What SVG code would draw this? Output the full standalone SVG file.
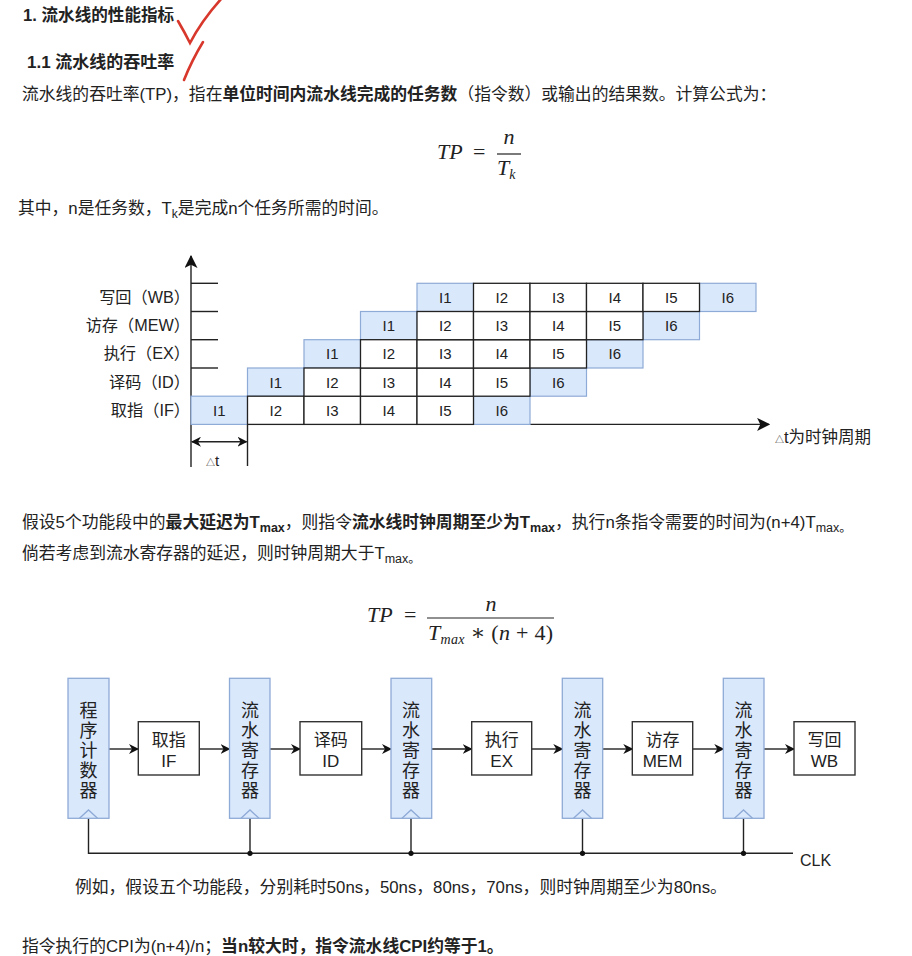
<svg xmlns="http://www.w3.org/2000/svg" width="912" height="956" viewBox="0 0 912 956">
<defs>
<style>
text{font-family:"Liberation Sans","Noto Sans CJK SC",sans-serif;fill:#222}
.p{font-size:16.8px}
.b{font-weight:bold}
.h{font-weight:bold}
.m{font-family:"Liberation Serif","DejaVu Serif",serif;font-style:italic;font-size:22px}
.mu{font-family:"Liberation Serif","DejaVu Serif",serif;font-style:normal;font-size:22px}
.lbl{font-size:16.2px;text-anchor:end}
.cell{font-size:15px;text-anchor:middle}
.blue{fill:#dae8fc;stroke:#8eaad6;stroke-width:1.2}
.white{fill:#fff;stroke:#222;stroke-width:1.3}
.ln{stroke:#222;stroke-width:1.4;fill:none}
.reg{fill:#dae8fc;stroke:#8eaad6;stroke-width:1.3}
.box{fill:#fff;stroke:#333;stroke-width:1.4}
.rt{font-size:18px;text-anchor:middle}
.bt{font-size:17px;text-anchor:middle}
.chk{stroke:#d8382c;stroke-width:2.6;fill:none;stroke-linecap:round}
</style>
<marker id="ah" viewBox="0 0 10 10" refX="9" refY="5" markerWidth="10" markerHeight="10" markerUnits="userSpaceOnUse" orient="auto-start-reverse">
<path d="M0,0 L10,5 L0,10 L3,5 Z" fill="#111"/>
</marker>
<marker id="ax" viewBox="0 0 12 12" refX="11" refY="6" markerWidth="13" markerHeight="13" markerUnits="userSpaceOnUse" orient="auto-start-reverse">
<path d="M0,0 L12,6 L0,12 L3,6 Z" fill="#111"/>
</marker>
</defs>
<rect width="912" height="956" fill="#fff"/>

<!-- headings -->
<text x="23" y="21" class="h" font-size="16.6">1. 流水线的性能指标</text>
<path class="chk" d="M178,21 Q185,33 190,43 Q202,20 222,-2"/>
<path class="chk" d="M203,42 Q192,60 184,80"/>
<text x="27" y="68" class="h" font-size="17">1.1 流水线的吞吐率</text>
<text x="22" y="100" class="p">流水线的吞吐率(TP)，指在<tspan class="b">单位时间内流水线完成的任务数</tspan>（指令数）或输出的结果数。计算公式为：</text>

<!-- formula 1 -->
<g id="formula1">
<text x="437" y="159" class="m" font-size="24">TP</text>
<text x="473" y="159" class="mu">=</text>
<line x1="497" y1="154" x2="521" y2="154" stroke="#222" stroke-width="1.2"/>
<text x="509" y="144" class="m" text-anchor="middle">n</text>
<text x="497" y="175" class="m">T<tspan font-size="14" dy="4">k</tspan></text>
</g>

<text x="18" y="214" class="p" font-size="17.2">其中，n是任务数，T<tspan font-size="12" dy="4">k</tspan><tspan dy="-4">是完成n个任务所需的时间。</tspan></text>

<!-- pipeline chart -->
<g id="chart-axes">
<line class="ln" x1="191" y1="467" x2="191" y2="256" marker-end="url(#ax)"/>
<line class="ln" x1="191" y1="424.4" x2="769" y2="424.4" marker-end="url(#ax)"/>
<line class="ln" x1="191" y1="283.3" x2="218" y2="283.3"/>
<line class="ln" x1="191" y1="311.5" x2="218" y2="311.5"/>
<line class="ln" x1="191" y1="339.7" x2="218" y2="339.7"/>
<line class="ln" x1="191" y1="368" x2="218" y2="368"/>
<line class="ln" x1="247.5" y1="424.4" x2="247.5" y2="466"/>
<line class="ln" x1="192" y1="441.7" x2="246.5" y2="441.7" marker-start="url(#ah)" marker-end="url(#ah)"/>
<text x="206" y="466"><tspan font-size="9">△</tspan><tspan font-size="15">t</tspan></text>
<text x="775" y="443"><tspan font-size="9">△</tspan><tspan font-size="16.5">t为时钟周期</tspan></text>
</g>
<g id="row-labels">
<text x="190" y="303" class="lbl">写回（WB）</text>
<text x="190" y="331" class="lbl">访存（MEW）</text>
<text x="190" y="359" class="lbl">执行（EX）</text>
<text x="190" y="388" class="lbl">译码（ID）</text>
<text x="190" y="416" class="lbl">取指（IF）</text>
</g>
<g id="blue-cells">
<rect class="blue" x="191" y="396.2" width="56.5" height="28.2"/>
<rect class="blue" x="473.5" y="396.2" width="56.5" height="28.2"/>
<rect class="blue" x="247.5" y="368" width="56.5" height="28.2"/>
<rect class="blue" x="530" y="368" width="56.5" height="28.2"/>
<rect class="blue" x="304" y="339.7" width="56.5" height="28.3"/>
<rect class="blue" x="586.5" y="339.7" width="56.5" height="28.3"/>
<rect class="blue" x="360.5" y="311.5" width="56.5" height="28.2"/>
<rect class="blue" x="643" y="311.5" width="56.5" height="28.2"/>
<rect class="blue" x="417" y="283.3" width="56.5" height="28.2"/>
<rect class="blue" x="699.5" y="283.3" width="56.5" height="28.2"/>
</g>
<g id="white-cells">
<rect class="white" x="247.5" y="396.2" width="56.5" height="28.2"/>
<rect class="white" x="304" y="396.2" width="56.5" height="28.2"/>
<rect class="white" x="360.5" y="396.2" width="56.5" height="28.2"/>
<rect class="white" x="417" y="396.2" width="56.5" height="28.2"/>
<rect class="white" x="304" y="368" width="56.5" height="28.2"/>
<rect class="white" x="360.5" y="368" width="56.5" height="28.2"/>
<rect class="white" x="417" y="368" width="56.5" height="28.2"/>
<rect class="white" x="473.5" y="368" width="56.5" height="28.2"/>
<rect class="white" x="360.5" y="339.7" width="56.5" height="28.3"/>
<rect class="white" x="417" y="339.7" width="56.5" height="28.3"/>
<rect class="white" x="473.5" y="339.7" width="56.5" height="28.3"/>
<rect class="white" x="530" y="339.7" width="56.5" height="28.3"/>
<rect class="white" x="417" y="311.5" width="56.5" height="28.2"/>
<rect class="white" x="473.5" y="311.5" width="56.5" height="28.2"/>
<rect class="white" x="530" y="311.5" width="56.5" height="28.2"/>
<rect class="white" x="586.5" y="311.5" width="56.5" height="28.2"/>
<rect class="white" x="473.5" y="283.3" width="56.5" height="28.2"/>
<rect class="white" x="530" y="283.3" width="56.5" height="28.2"/>
<rect class="white" x="586.5" y="283.3" width="56.5" height="28.2"/>
<rect class="white" x="643" y="283.3" width="56.5" height="28.2"/>
</g>
<g id="cell-text">
<text class="cell" x="219.3" y="416">I1</text><text class="cell" x="275.8" y="416">I2</text><text class="cell" x="332.3" y="416">I3</text><text class="cell" x="388.8" y="416">I4</text><text class="cell" x="445.3" y="416">I5</text><text class="cell" x="501.8" y="416">I6</text>
<text class="cell" x="275.8" y="388">I1</text><text class="cell" x="332.3" y="388">I2</text><text class="cell" x="388.8" y="388">I3</text><text class="cell" x="445.3" y="388">I4</text><text class="cell" x="501.8" y="388">I5</text><text class="cell" x="558.3" y="388">I6</text>
<text class="cell" x="332.3" y="359">I1</text><text class="cell" x="388.8" y="359">I2</text><text class="cell" x="445.3" y="359">I3</text><text class="cell" x="501.8" y="359">I4</text><text class="cell" x="558.3" y="359">I5</text><text class="cell" x="614.8" y="359">I6</text>
<text class="cell" x="388.8" y="331">I1</text><text class="cell" x="445.3" y="331">I2</text><text class="cell" x="501.8" y="331">I3</text><text class="cell" x="558.3" y="331">I4</text><text class="cell" x="614.8" y="331">I5</text><text class="cell" x="671.3" y="331">I6</text>
<text class="cell" x="445.3" y="303">I1</text><text class="cell" x="501.8" y="303">I2</text><text class="cell" x="558.3" y="303">I3</text><text class="cell" x="614.8" y="303">I4</text><text class="cell" x="671.3" y="303">I5</text><text class="cell" x="727.8" y="303">I6</text>
</g>

<text x="22" y="528" class="p">假设5个功能段中的<tspan class="b">最大延迟为T<tspan font-size="12.5" dy="4">max</tspan></tspan><tspan dy="-4">，则指令</tspan><tspan class="b">流水线时钟周期至少为T<tspan font-size="12.5" dy="4">max</tspan></tspan><tspan dy="-4">，执行n条指令需要的时间为(n+4)T</tspan><tspan font-size="12.5" dy="4">max。</tspan></text>
<text x="22" y="559" class="p">倘若考虑到流水寄存器的延迟，则时钟周期大于T<tspan font-size="12.5" dy="4">max。</tspan></text>

<!-- formula 2 -->
<g id="formula2">
<text x="367" y="622" class="m" font-size="24">TP</text>
<text x="404" y="622" class="mu">=</text>
<line x1="427" y1="618" x2="554" y2="618" stroke="#222" stroke-width="1.2"/>
<text x="491" y="611" class="m" text-anchor="middle">n</text>
<text x="428" y="640" class="m" textLength="125" lengthAdjust="spacing">T<tspan font-size="14" dy="4">max</tspan><tspan class="mu" dy="-4"> ∗ (</tspan>n<tspan class="mu"> + 4)</tspan></text>
</g>

<!-- block diagram -->
<g id="connectors">
<line class="ln" x1="109" y1="749" x2="138" y2="749" marker-end="url(#ah)"/>
<line class="ln" x1="199.3" y1="749" x2="229.5" y2="749" marker-end="url(#ah)"/>
<line class="ln" x1="270" y1="749" x2="300" y2="749" marker-end="url(#ah)"/>
<line class="ln" x1="361.7" y1="749" x2="391" y2="749" marker-end="url(#ah)"/>
<line class="ln" x1="431.7" y1="749" x2="471.7" y2="749" marker-end="url(#ah)"/>
<line class="ln" x1="531.7" y1="749" x2="562.3" y2="749" marker-end="url(#ah)"/>
<line class="ln" x1="602.7" y1="749" x2="632.3" y2="749" marker-end="url(#ah)"/>
<line class="ln" x1="692.7" y1="749" x2="723.3" y2="749" marker-end="url(#ah)"/>
<line class="ln" x1="764" y1="749" x2="794" y2="749" marker-end="url(#ah)"/>
<path class="ln" d="M88.5,818 V853.3 H793"/>
<line class="ln" x1="250" y1="818" x2="250" y2="853.3"/>
<line class="ln" x1="411" y1="818" x2="411" y2="853.3"/>
<line class="ln" x1="582.5" y1="818" x2="582.5" y2="853.3"/>
<line class="ln" x1="743.5" y1="818" x2="743.5" y2="853.3"/>
<circle cx="250" cy="853.3" r="2.6" fill="#111"/>
<circle cx="411" cy="853.3" r="2.6" fill="#111"/>
<circle cx="582.5" cy="853.3" r="2.6" fill="#111"/>
<circle cx="743.5" cy="853.3" r="2.6" fill="#111"/>
<text x="800" y="866" font-size="16">CLK</text>
</g>

<g id="pc">
<rect class="reg" x="68" y="678.3" width="41" height="140"/>
<path d="M79.5,818.3 L88.5,810 L97.5,818.3" fill="none" stroke="#8eaad6" stroke-width="1.3"/>
<text class="rt" x="88.5" y="716.5">程</text><text class="rt" x="88.5" y="736.5">序</text><text class="rt" x="88.5" y="756.5">计</text><text class="rt" x="88.5" y="776.5">数</text><text class="rt" x="88.5" y="796.5">器</text>
</g>
<g id="if">
<rect class="box" x="138.3" y="721.7" width="61" height="53.3"/>
<text class="bt" x="168.8" y="746">取指</text><text class="bt" x="168.8" y="767">IF</text>
</g>
<g id="reg1">
<rect class="reg" x="229.5" y="678.3" width="40.5" height="140"/>
<path d="M241,818.3 L250,810 L259,818.3" fill="none" stroke="#8eaad6" stroke-width="1.3"/>
<text class="rt" x="250" y="716.5">流</text><text class="rt" x="250" y="736.5">水</text><text class="rt" x="250" y="756.5">寄</text><text class="rt" x="250" y="776.5">存</text><text class="rt" x="250" y="796.5">器</text>
</g>
<g id="id">
<rect class="box" x="300" y="721.7" width="61.7" height="53.3"/>
<text class="bt" x="330.8" y="746">译码</text><text class="bt" x="330.8" y="767">ID</text>
</g>
<g id="reg2">
<rect class="reg" x="391" y="678.3" width="40.7" height="140"/>
<path d="M402,818.3 L411,810 L420,818.3" fill="none" stroke="#8eaad6" stroke-width="1.3"/>
<text class="rt" x="411" y="716.5">流</text><text class="rt" x="411" y="736.5">水</text><text class="rt" x="411" y="756.5">寄</text><text class="rt" x="411" y="776.5">存</text><text class="rt" x="411" y="796.5">器</text>
</g>
<g id="ex">
<rect class="box" x="471.7" y="721.7" width="60" height="53.3"/>
<text class="bt" x="501.7" y="746">执行</text><text class="bt" x="501.7" y="767">EX</text>
</g>
<g id="reg3">
<rect class="reg" x="562.3" y="678.3" width="40.4" height="140"/>
<path d="M573.5,818.3 L582.5,810 L591.5,818.3" fill="none" stroke="#8eaad6" stroke-width="1.3"/>
<text class="rt" x="582.5" y="716.5">流</text><text class="rt" x="582.5" y="736.5">水</text><text class="rt" x="582.5" y="756.5">寄</text><text class="rt" x="582.5" y="776.5">存</text><text class="rt" x="582.5" y="796.5">器</text>
</g>
<g id="mem">
<rect class="box" x="632.3" y="721.7" width="60.4" height="53.3"/>
<text class="bt" x="662.5" y="746">访存</text><text class="bt" x="662.5" y="767">MEM</text>
</g>
<g id="reg4">
<rect class="reg" x="723.3" y="678.3" width="40.7" height="140"/>
<path d="M734.5,818.3 L743.5,810 L752.5,818.3" fill="none" stroke="#8eaad6" stroke-width="1.3"/>
<text class="rt" x="743.5" y="716.5">流</text><text class="rt" x="743.5" y="736.5">水</text><text class="rt" x="743.5" y="756.5">寄</text><text class="rt" x="743.5" y="776.5">存</text><text class="rt" x="743.5" y="796.5">器</text>
</g>
<g id="wb">
<rect class="box" x="794" y="721.7" width="61" height="53.3"/>
<text class="bt" x="824.5" y="746">写回</text><text class="bt" x="824.5" y="767">WB</text>
</g>

<text x="75" y="893" class="p">例如，假设五个功能段，分别耗时50ns，50ns，80ns，70ns，则时钟周期至少为80ns。</text>
<text x="22" y="952" class="p">指令执行的CPI为(n+4)/n；<tspan class="b">当n较大时，指令流水线CPI约等于1。</tspan></text>
</svg>
